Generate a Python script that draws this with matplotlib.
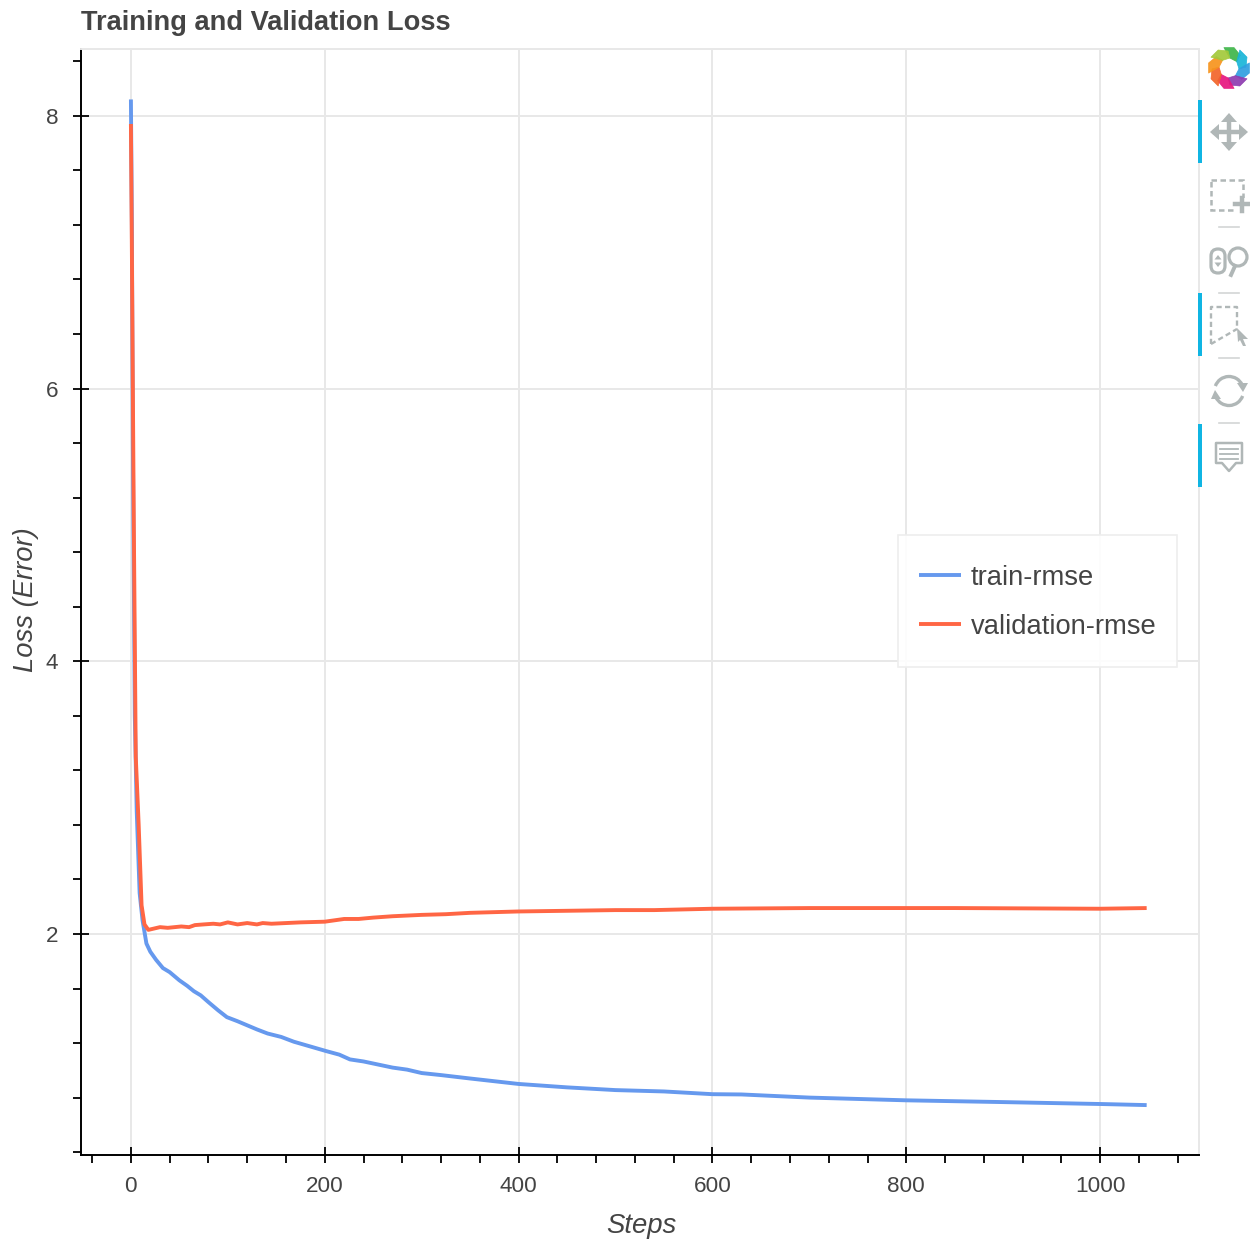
import numpy as np
import matplotlib
matplotlib.use("Agg")
import matplotlib.pyplot as plt
from matplotlib.patches import Rectangle, Polygon, Circle, FancyBboxPatch, Arc
from matplotlib.ticker import MultipleLocator

title = "Training and Validation Loss"
x_label = "Steps"
y_label = "Loss (Error)"
series_names = ["train-rmse", "validation-rmse"]

train_steps = [0, 1, 2, 4, 6, 9, 12, 16, 20, 26, 33, 40, 50, 58, 65, 72, 80, 90, 99, 110, 120, 130, 141, 155, 168, 185,
               202, 215, 226, 240, 250, 270, 285, 300, 320, 350, 375,
               400, 450, 500, 550, 600, 630, 700, 800, 900, 1000, 1048]
train_rmse = [8.12, 7.2, 5.6, 3.6, 2.9, 2.3, 2.1, 1.93, 1.87, 1.81, 1.75, 1.72, 1.66, 1.62, 1.58, 1.55, 1.50, 1.44, 1.39,
              1.36, 1.33, 1.30, 1.27, 1.245, 1.21, 1.175, 1.14, 1.115, 1.08, 1.065, 1.05, 1.02, 1.005, 0.98, 0.965, 0.94, 0.92,
              0.90, 0.875, 0.855, 0.845, 0.825, 0.823, 0.80, 0.78, 0.767, 0.753, 0.745]
val_steps = [0, 1, 3, 5, 8, 11, 14, 18, 24, 30, 38, 45, 52, 60, 66, 75, 85, 92, 100, 110, 120, 130, 136, 145, 160, 175, 200, 220, 235,
             250, 270, 300, 325, 350, 400, 500, 540, 600, 700, 850, 1000, 1048]
val_rmse = [7.94, 7.0, 5.0, 3.3, 2.8, 2.21, 2.07, 2.03, 2.04, 2.05, 2.045, 2.05, 2.055, 2.05, 2.065, 2.07, 2.075, 2.07, 2.085,
            2.07, 2.08, 2.07, 2.08, 2.075, 2.08, 2.085, 2.09, 2.11, 2.11, 2.12, 2.13, 2.14, 2.145, 2.155, 2.165, 2.175, 2.175, 2.185,
            2.19, 2.19, 2.185, 2.19]

plt.rcParams["font.family"] = ["Liberation Sans", "DejaVu Sans"]
W, H = 1250, 1239
fig = plt.figure(figsize=(W / 100, H / 100), dpi=100, facecolor="white")
L, R, T, B = 81, 1199, 49, 1155
ax = fig.add_axes([L / W, 1 - B / H, (R - L) / W, (B - T) / H])
ax.set_xlim(-51.5, 1102)
ax.set_ylim(0.379, 8.49)
GRID = "#e8e8e8"
ax.grid(True, which="major", color=GRID, lw=1.4, zorder=0)
ax.set_axisbelow(True)
ax.xaxis.set_major_locator(MultipleLocator(200))
ax.xaxis.set_minor_locator(MultipleLocator(40))
ax.yaxis.set_major_locator(MultipleLocator(2))
ax.yaxis.set_minor_locator(MultipleLocator(0.4))
TXT = "#444444"
ax.tick_params(which="major", direction="inout", length=12, width=1.3, color="black",
               labelsize=16.2, labelcolor=TXT)
ax.tick_params(axis="x", which="major", pad=9)
ax.tick_params(axis="y", which="major", pad=10.5)
ax.tick_params(which="minor", direction="out", length=6, width=1.3, color="black")
for s in ("top", "right"):
    ax.spines[s].set_color(GRID)
    ax.spines[s].set_linewidth(1.4)
for s in ("left", "bottom"):
    ax.spines[s].set_color("black")
    ax.spines[s].set_linewidth(1.4)

ax.plot(train_steps, train_rmse, color="#6699ee", lw=2.8, label=series_names[0], zorder=3,
        solid_joinstyle="round", solid_capstyle="butt")
ax.plot(val_steps, val_rmse, color="#ff6644", lw=2.8, label=series_names[1], zorder=4,
        solid_joinstyle="round", solid_capstyle="butt")

fig.text(81 / W, 1 - 23.5 / H, title, fontsize=19.6, fontweight="bold", color=TXT, ha="left", va="center")
fig.text(641 / W, 1 - 1226 / H, x_label, fontsize=19.8, style="italic", color=TXT, ha="center", va="center")
fig.text(26 / W, 1 - 600 / H, y_label, fontsize=19.7, style="italic", color=TXT, ha="center", va="center",
         rotation=90)

# legend: frame drawn separately so its vertical and horizontal padding can differ
ax.add_patch(Rectangle((898 / W, 1 - 667 / H), 279 / W, 132 / H, transform=fig.transFigure, clip_on=False,
                       facecolor=(1, 1, 1, 0.9), edgecolor="#eeeeee", lw=1.2, zorder=5))
leg = ax.legend(loc="upper left", bbox_to_anchor=(919 / W, 1 - 565 / H), bbox_transform=fig.transFigure,
                fontsize=19.7, frameon=False, handlelength=1.53, handletextpad=0.36, labelspacing=0.84,
                borderpad=0, borderaxespad=0)
leg.set_zorder(6)
for t in leg.get_texts():
    t.set_color(TXT)

# toolbar drawn on a pixel-coordinate overlay
ov = fig.add_axes([0, 0, 1, 1], facecolor="none")
ov.set_xlim(0, W)
ov.set_ylim(H, 0)
ov.axis("off")
ICON = "#b0b7b7"
# logo: ring of eight overlapping petals
logo_colors = ["#3fb54a", "#19b5d8", "#2f9fe0", "#8e3bb0", "#e6177f", "#f2652a", "#f7941d", "#a3c93a"]
def polar(r, deg):
    return (1229 + r * np.cos(np.radians(deg)), 68 + r * np.sin(np.radians(deg)))
for i, c in enumerate(logo_colors):
    a = -90 + i * 45
    ov.add_patch(Polygon([polar(21, a - 14), polar(21, a + 14), polar(17, a + 42), polar(10, a + 50), polar(10, a + 5)],
                         facecolor=c, edgecolor=c, lw=0.5, joinstyle="round", alpha=0.92))
# active tool bars
for y0, y1 in [(100, 163), (293, 356), (424, 487)]:
    ov.add_patch(Rectangle((1198, y0), 4, y1 - y0, facecolor="#10b5e3", edgecolor="none", zorder=5))
# separators
for y in (227, 293, 358, 423):
    ov.plot([1219, 1239], [y, y], color="#d3d6d6", lw=1.2)
# pan
cx, cy = 1229, 132
ov.plot([cx - 14, cx + 14], [cy, cy], color=ICON, lw=3.2)
ov.plot([cx, cx], [cy - 14, cy + 14], color=ICON, lw=3.2)
for dx, dy in [(1, 0), (-1, 0), (0, 1), (0, -1)]:
    tip = (cx + 19 * dx, cy + 19 * dy)
    b = (cx + 10 * dx, cy + 10 * dy)
    ov.add_patch(Polygon([tip, (b[0] + 8 * dy, b[1] + 8 * dx), (b[0] - 8 * dy, b[1] - 8 * dx)], facecolor=ICON))
# box zoom
ov.add_patch(Rectangle((1211, 180), 32, 30, fill=False, edgecolor=ICON, lw=1.8, ls=(0, (2.2, 1.4))))
ov.add_patch(Rectangle((1234, 198), 14, 14, facecolor="white", edgecolor="none"))
ov.plot([1235, 1248], [204, 204], color=ICON, lw=3.2)
ov.plot([1241.5, 1241.5], [198, 211], color=ICON, lw=3.2)
# wheel zoom
ov.add_patch(FancyBboxPatch((1214, 252), 8, 18, boxstyle="round,pad=3,rounding_size=7", fill=False,
                            edgecolor=ICON, lw=2.3))
ov.add_patch(Polygon([(1218, 255), (1214.5, 259.5), (1221.5, 259.5)], facecolor=ICON))
ov.add_patch(Polygon([(1218, 267), (1214.5, 262.5), (1221.5, 262.5)], facecolor=ICON))
ov.add_patch(Circle((1238, 257), 9, fill=False, edgecolor=ICON, lw=2.3))
ov.plot([1235, 1231], [266, 275], color=ICON, lw=2.8)
# lasso select
ov.plot([1211, 1211, 1237, 1237], [344, 307, 307, 328], color=ICON, lw=1.7, ls=(0, (2.2, 1.4)))
ov.plot([1211, 1237], [344, 329], color=ICON, lw=1.7, ls=(0, (2.2, 1.4)))
ov.add_patch(Polygon([(1237, 328), (1248, 339), (1243, 339), (1246, 346), (1243, 346), (1240, 340), (1238, 342)],
                     facecolor=ICON))
# reset
ov.add_patch(Arc((1229, 391), 29, 29, theta1=200, theta2=335, edgecolor=ICON, lw=2.4))
ov.add_patch(Arc((1229, 391), 29, 29, theta1=20, theta2=155, edgecolor=ICON, lw=2.4))
ov.add_patch(Polygon([(1237, 383), (1248, 383), (1243, 392)], facecolor=ICON))
ov.add_patch(Polygon([(1211, 399), (1221, 399), (1215, 390)], facecolor=ICON))
# hover
ov.add_patch(Polygon([(1216, 443), (1242, 443), (1242, 463), (1236, 463), (1229, 471), (1222, 463), (1216, 463)],
                     fill=False, edgecolor=ICON, lw=1.8, joinstyle="round"))
for y in (449, 454, 459):
    ov.plot([1220, 1238], [y, y], color=ICON, lw=1.3)

fig.savefig("out.png", dpi=100)
